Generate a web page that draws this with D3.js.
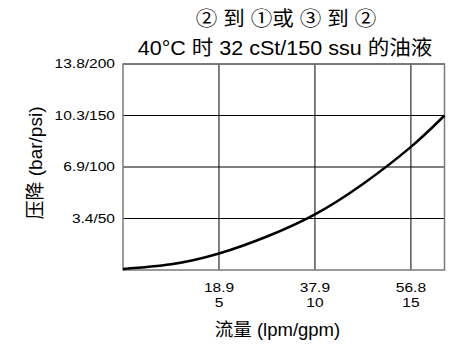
<!DOCTYPE html>
<html><head><meta charset="utf-8">
<script src="https://cdn.jsdelivr.net/npm/d3@7/dist/d3.min.js"></script>
<style>body{margin:0;background:#fff}svg{display:block}text{font-family:"Liberation Sans",Arial,"Noto Sans CJK SC",sans-serif;fill:#000}</style>
</head><body>
<script>
const titleLines = ["② 到 ①或 ③ 到 ②", "40°C 时 32 cSt/150 ssu 的油液"];
const xTitle = "流量 (lpm/gpm)";
const yTitle = "压降 (bar/psi)";
const flowGpm = [0, 2.5, 5, 7.5, 10, 12.5, 15, 16.75];
const pressurePsi = [1, 5.5, 16, 32.5, 54, 83.5, 119.5, 150];
const xTickValues = [5, 10, 15];
const xTickLpm = ["18.9", "37.9", "56.8"];
const xTickGpm = ["5", "10", "15"];
const yTickValues = [50, 100, 150, 200];
const yTickLabels = ["3.4/50", "6.9/100", "10.3/150", "13.8/200"];

const W = 473, H = 356;
const L = 123, R = 444.5, T = 64, B = 270;
const svg = d3.select("body").append("svg").attr("width", W).attr("height", H);
const x = d3.scaleLinear().domain([0, 16.75]).range([L, R]);
const y = d3.scaleLinear().domain([0, 200]).range([B, T]);

// grid
const g = svg.append("g");
g.selectAll("line.v").data(xTickValues).join("line")
  .attr("x1", d => x(d)).attr("x2", d => x(d)).attr("y1", T).attr("y2", B)
  .attr("stroke", "#000").attr("stroke-width", 1);
g.selectAll("line.h").data(yTickValues).join("line")
  .attr("x1", L).attr("x2", R).attr("y1", d => y(d)).attr("y2", d => y(d))
  .attr("stroke", "#000").attr("stroke-width", 1);
svg.append("rect").attr("x", L).attr("y", T).attr("width", R - L).attr("height", B - T)
  .attr("fill", "none").attr("stroke", "#7a7a7a").attr("stroke-width", 1.5);

// curve
const line = d3.line().x((d, i) => x(flowGpm[i])).y(d => y(d)).curve(d3.curveNatural);
svg.append("path").datum(pressurePsi).attr("d", line)
  .attr("fill", "none").attr("stroke", "#000").attr("stroke-width", 2.5);

const sx = 1.15;
// y tick labels
svg.selectAll("text.yt").data(yTickValues).join("text")
  .attr("transform", d => `translate(${L - 8},${y(d) + 4}) scale(${sx},1)`)
  .attr("text-anchor", "end")
  .attr("font-size", 13.5).text((d, i) => yTickLabels[i]);
// x tick labels
svg.selectAll("text.xt1").data(xTickValues).join("text")
  .attr("transform", d => `translate(${x(d)},292) scale(${sx},1)`)
  .attr("text-anchor", "middle")
  .attr("font-size", 13.5).text((d, i) => xTickLpm[i]);
svg.selectAll("text.xt2").data(xTickValues).join("text")
  .attr("transform", d => `translate(${x(d)},307) scale(${sx},1)`)
  .attr("text-anchor", "middle")
  .attr("font-size", 13.5).text((d, i) => xTickGpm[i]);

// titles
svg.append("text").attr("transform", "translate(286,26) scale(1.077,1)").attr("text-anchor", "middle")
  .attr("font-size", 20).text(titleLines[0]);
svg.append("text").attr("transform", "translate(285,55) scale(1.077,1)").attr("text-anchor", "middle")
  .attr("font-size", 20).text(titleLines[1]);
svg.append("text").attr("x", 277.5).attr("y", 336).attr("text-anchor", "middle")
  .attr("font-size", 18.5).text(xTitle);
svg.append("text").attr("transform", "translate(42,163) rotate(-90)").attr("text-anchor", "middle")
  .attr("font-size", 19).text(yTitle);
</script>
</body></html>
